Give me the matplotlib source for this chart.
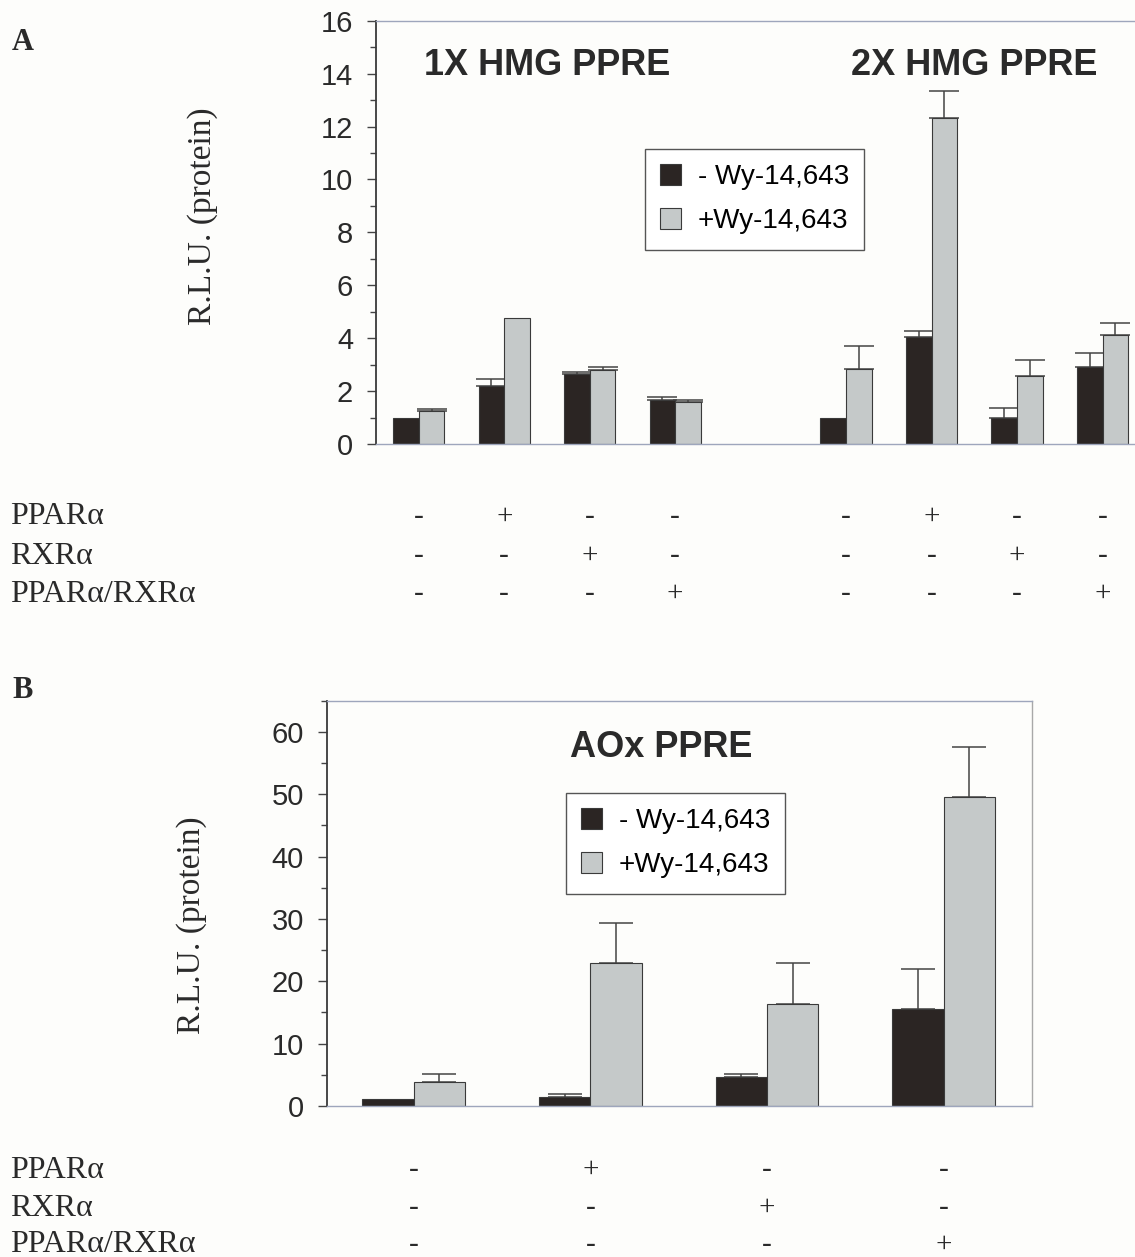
import numpy as np
import matplotlib
matplotlib.use("Agg")
import matplotlib.pyplot as plt
import matplotlib.transforms as mtransforms
from matplotlib.ticker import MultipleLocator

# --- Data ---
legend_labels = ["- Wy-14,643", "+Wy-14,643"]
row_labels = ["PPAR\u03b1", "RXR\u03b1", "PPAR\u03b1/RXR\u03b1"]

# panel A: 1X HMG PPRE (4 groups) then 2X HMG PPRE (4 groups)
a_pos = [0, 1, 2, 3, 5, 6, 7, 8]
a_minus = [1.0, 2.18, 2.64, 1.67, 1.0, 4.03, 1.0, 2.91]
a_minus_err = [0, 0.27, 0.07, 0.09, 0, 0.25, 0.36, 0.53]
a_plus = [1.23, 4.78, 2.81, 1.59, 2.83, 12.31, 2.56, 4.12]
a_plus_err = [0.09, 0, 0.10, 0.08, 0.86, 1.03, 0.62, 0.45]
a_signs = [["-", "+", "-", "-", "-", "+", "-", "-"],
           ["-", "-", "+", "-", "-", "-", "+", "-"],
           ["-", "-", "-", "+", "-", "-", "-", "+"]]

# panel B: AOx PPRE
b_pos = [0, 1, 2, 3]
b_minus = [1.07, 1.49, 4.69, 15.6]
b_minus_err = [0, 0.38, 0.38, 6.4]
b_plus = [3.89, 23.0, 16.3, 49.5]
b_plus_err = [1.18, 6.3, 6.7, 8.1]
b_signs = [["-", "+", "-", "-"],
           ["-", "-", "+", "-"],
           ["-", "-", "-", "+"]]

# --- Style ---
DARK = "#2b2523"
GREY = "#c5c9c9"
EDGE = "#3a3a3a"
TXT = "#2a2a2a"
SPINE_LIGHT = "#9ea6bc"
SERIF = "Liberation Serif"
SANS = "Liberation Sans"

W, H = 1135, 1257
fig = plt.figure(figsize=(W / 100, H / 100), dpi=100)
fig.patch.set_facecolor("#fdfdfb")


def px(x, y):
    """pixel coords (from top-left) -> figure fraction"""
    return x / W, 1 - y / H


def draw_panel(ax, pos, minus, minus_err, plus, plus_err, width, capsize):
    pos = np.asarray(pos, dtype=float)
    ax.bar(pos - width / 2, minus, width, color=DARK, edgecolor=EDGE,
           linewidth=0.8, label=legend_labels[0], zorder=2)
    ax.bar(pos + width / 2, plus, width, color=GREY, edgecolor=EDGE,
           linewidth=0.8, label=legend_labels[1], zorder=2)
    # only upper error bars
    for xs, ys, es in [(pos - width / 2, minus, minus_err),
                       (pos + width / 2, plus, plus_err)]:
        for x, y, e in zip(xs, ys, es):
            if e > 0:
                ax.errorbar(x, y, yerr=[[0], [e]], fmt="none", ecolor="#444444",
                            elinewidth=1.1, capsize=capsize, capthick=1.1, zorder=1)
    ax.set_facecolor("none")
    ax.tick_params(axis="x", bottom=False, labelbottom=False)
    ax.tick_params(axis="y", which="major", direction="out", length=6.5, width=1,
                   color="#444444", pad=10, labelsize=21, labelcolor=TXT)
    ax.tick_params(axis="y", which="minor", direction="out", length=4.5, width=1,
                   color="#444444")
    for t in ax.get_yticklabels():
        t.set_fontfamily(SANS)
    ax.spines["left"].set_color("#3a3a3a")
    ax.spines["left"].set_linewidth(1.3)
    ax.spines["top"].set_color(SPINE_LIGHT)
    ax.spines["bottom"].set_color(SPINE_LIGHT)
    ax.spines["top"].set_linewidth(1.0)
    ax.spines["bottom"].set_linewidth(1.0)


def draw_table(ax, pos, signs, rows_y):
    trans = mtransforms.blended_transform_factory(ax.transData, fig.transFigure)
    for r, (label, y) in enumerate(zip(row_labels, rows_y)):
        fig.text(10 / W, 1 - y / H, label, ha="left", va="center",
                 fontsize=23, family=SERIF, color=TXT)
        for x, s in zip(pos, signs[r]):
            fig.text(x, 1 - y / H, s, transform=trans, ha="center", va="center",
                     fontsize=21, family=SERIF, color=TXT)


legend_kw = dict(loc="upper left", bbox_transform=fig.transFigure, borderaxespad=0,
                 fancybox=False, framealpha=1, edgecolor="#555555",
                 prop={"family": SANS, "size": 20}, handlelength=0.75,
                 handleheight=0.75, handletextpad=0.6, borderpad=0.55,
                 labelspacing=0.65)

# --- Panel A ---
l, t = px(376, 20.7)
r, b = px(1135, 444)
axA = fig.add_axes([l, b, r - l, t - b])
draw_panel(axA, a_pos, a_minus, a_minus_err, a_plus, a_plus_err, 0.30, 11)
axA.set_xlim(-0.5, 8.38)
axA.set_ylim(0, 16)
axA.yaxis.set_major_locator(MultipleLocator(2))
axA.yaxis.set_minor_locator(MultipleLocator(1))
axA.spines["right"].set_visible(False)
axA.text(1.5, 14.3, "1X HMG PPRE", ha="center", va="center", fontsize=26,
         fontweight="bold", family=SANS, color=TXT)
axA.text(6.5, 14.3, "2X HMG PPRE", ha="center", va="center", fontsize=26,
         fontweight="bold", family=SANS, color=TXT)
axA.legend(bbox_to_anchor=px(645, 149), **legend_kw)
fig.text(12 / W, 1 - 43 / H, "A", fontsize=22, fontweight="bold", family=SERIF,
         color=TXT, ha="left", va="center")
fig.text(203 / W, 1 - 216 / H, "R.L.U. (protein)", rotation=90, fontsize=24,
         family=SERIF, color=TXT, ha="center", va="center")
draw_table(axA, a_pos, a_signs, [517, 556, 594])

# --- Panel B ---
l, t = px(327, 700.7)
r, b = px(1032, 1106)
axB = fig.add_axes([l, b, r - l, t - b])
draw_panel(axB, b_pos, b_minus, b_minus_err, b_plus, b_plus_err, 0.29, 12)
axB.set_xlim(-0.49, 3.5)
axB.set_ylim(0, 65)
axB.yaxis.set_major_locator(MultipleLocator(10))
axB.yaxis.set_minor_locator(MultipleLocator(5))
axB.set_yticks([0, 10, 20, 30, 40, 50, 60])
axB.spines["right"].set_color("#a8a8a8")
axB.spines["right"].set_linewidth(1.0)
axB.text(1.4, 57.5, "AOx PPRE", ha="center", va="center", fontsize=26,
         fontweight="bold", family=SANS, color=TXT)
axB.legend(bbox_to_anchor=px(566, 793), **legend_kw)
fig.text(12 / W, 1 - 690 / H, "B", fontsize=22, fontweight="bold", family=SERIF,
         color=TXT, ha="left", va="center")
fig.text(192 / W, 1 - 925 / H, "R.L.U. (protein)", rotation=90, fontsize=24,
         family=SERIF, color=TXT, ha="center", va="center")
draw_table(axB, b_pos, b_signs, [1170, 1208, 1245])

fig.savefig("out.png", dpi=100, facecolor=fig.get_facecolor())
